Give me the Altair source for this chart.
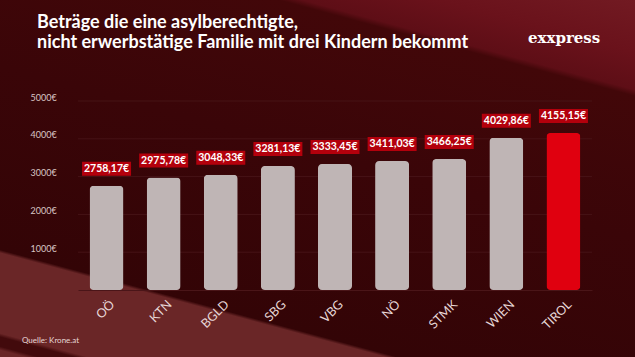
import altair as alt
import pandas as pd

regions = ["OÖ", "KTN", "BGLD", "SBG", "VBG", "NÖ", "STMK", "WIEN", "TIROL"]
values = [2758.17, 2975.78, 3048.33, 3281.13, 3333.45, 3411.03, 3466.25, 4029.86, 4155.15]
highlight = [False, False, False, False, False, False, False, False, True]
y_ticks = [1000, 2000, 3000, 4000, 5000]

title_lines = ["Beträge die eine asylberechtigte,",
               "nicht erwerbstätige Familie mit drei Kindern bekommt"]
source = "Quelle: Krone.at"
logo = "exxpress"

df = pd.DataFrame({
    "region": regions,
    "value": values,
    "hl": highlight,
    "label": [f"{v:.2f}".replace(".", ",") + "€" for v in values],
})
grid_df = pd.DataFrame({"value": y_ticks})

W, H = 514, 189
PL, PT, PR, PB = 78, 101, 43, 67
FONT = "Lato"

# decorative diagonal background gradient
bg_grad = alt.LinearGradient(
    gradient="linear", x1=1, y1=0, x2=0.4223, y2=1.2028,
    stops=[
        alt.GradientStop(offset=0.0, color="#721a22"),
        alt.GradientStop(offset=0.10, color="#6a121b"),
        alt.GradientStop(offset=0.170, color="#5e0e16"),
        alt.GradientStop(offset=0.182, color="#420709"),
        alt.GradientStop(offset=0.45, color="#3a0508"),
        alt.GradientStop(offset=0.797, color="#330406"),
        alt.GradientStop(offset=0.803, color="#6a2627"),
        alt.GradientStop(offset=0.955, color="#6a2627"),
        alt.GradientStop(offset=0.962, color="#420a0c"),
        alt.GradientStop(offset=0.980, color="#420a0c"),
        alt.GradientStop(offset=0.987, color="#6a2627"),
        alt.GradientStop(offset=1.0, color="#6a2627"),
    ],
)
bg = alt.Chart(pd.DataFrame({"d": [0]})).mark_rect(color=bg_grad).encode(
    x=alt.value(-PL), x2=alt.value(W + PR), y=alt.value(-PT), y2=alt.value(H + PB)
)

yscale = alt.Scale(domain=[0, 5000], nice=False)
yaxis = alt.Axis(values=y_ticks, format="d", labelExpr="datum.label + '€'",
                 labelAlign="left", labelPadding=48, labelOffset=-4,
                 ticks=False, domain=False, grid=False, labelColor="#d8c4c4",
                 labelFont=FONT, labelFontSize=9, zindex=1)

x = alt.X("region:N", sort=regions, title=None,
          scale=alt.Scale(paddingInner=0.4, paddingOuter=0.2),
          axis=alt.Axis(labelAngle=-45, labelAlign="right", labelBaseline="middle",
                        labelPadding=12, labelOffset=6, ticks=False, domain=True,
                        domainColor="#4a1518", labelColor="#e6d6d6", labelFont=FONT,
                        labelFontSize=12.5, zindex=1))
y = alt.Y("value:Q", title=None, scale=yscale, axis=yaxis)

grid = alt.Chart(grid_df).mark_rule(color="#4a171a", strokeWidth=0.8).encode(
    y=alt.Y("value:Q", title=None, scale=yscale, axis=yaxis)
)

base = alt.Chart(df)

bars = base.mark_bar(cornerRadius=4, width=34).encode(
    x=x, y=y,
    color=alt.Color("hl:N", scale=alt.Scale(domain=[False, True], range=["#bfb5b5", "#e0000f"]),
                    legend=None),
)

boxes = base.mark_bar(width=49, color="#b3000c", yOffset=-24, y2Offset=-10).encode(
    x=alt.X("region:N", sort=regions),
    y=alt.Y("value:Q"),
    y2=alt.Y2("value"),
)

texts = base.mark_text(color="white", font=FONT, fontWeight="bold", fontSize=10.5,
                       baseline="middle", dy=-17).encode(
    x=alt.X("region:N", sort=regions),
    y=alt.Y("value:Q"),
    text="label:N",
)

def label(txt, xv, yv, **kw):
    return alt.Chart(pd.DataFrame({"t": [txt]})).mark_text(
        align="left", baseline="middle", **kw
    ).encode(x=alt.value(xv), y=alt.value(yv), text="t:N")

t1 = label(title_lines[0], 37 - PL, 23 - PT, color="white", font=FONT, fontWeight="bold", fontSize=18)
t2 = label(title_lines[1], 37 - PL, 43 - PT, color="white", font=FONT, fontWeight="bold", fontSize=18)
lg = label(logo, 528 - PL, 38 - PT, color="white", font="DejaVu Serif", fontWeight="bold", fontSize=15)
src = label(source, 22 - PL, 341 - PT, color="#e6d6d6", font=FONT, fontSize=8)

chart = alt.layer(bg, grid, bars, boxes, texts, t1, t2, lg, src).properties(
    width=W, height=H,
    background="#370608",
    padding={"left": PL, "top": PT, "right": PR, "bottom": PB},
    autosize=alt.AutoSizeParams(type="none"),
).configure_view(stroke=None)

chart.save("out.html", embed_options={"renderer": "svg", "actions": False})
